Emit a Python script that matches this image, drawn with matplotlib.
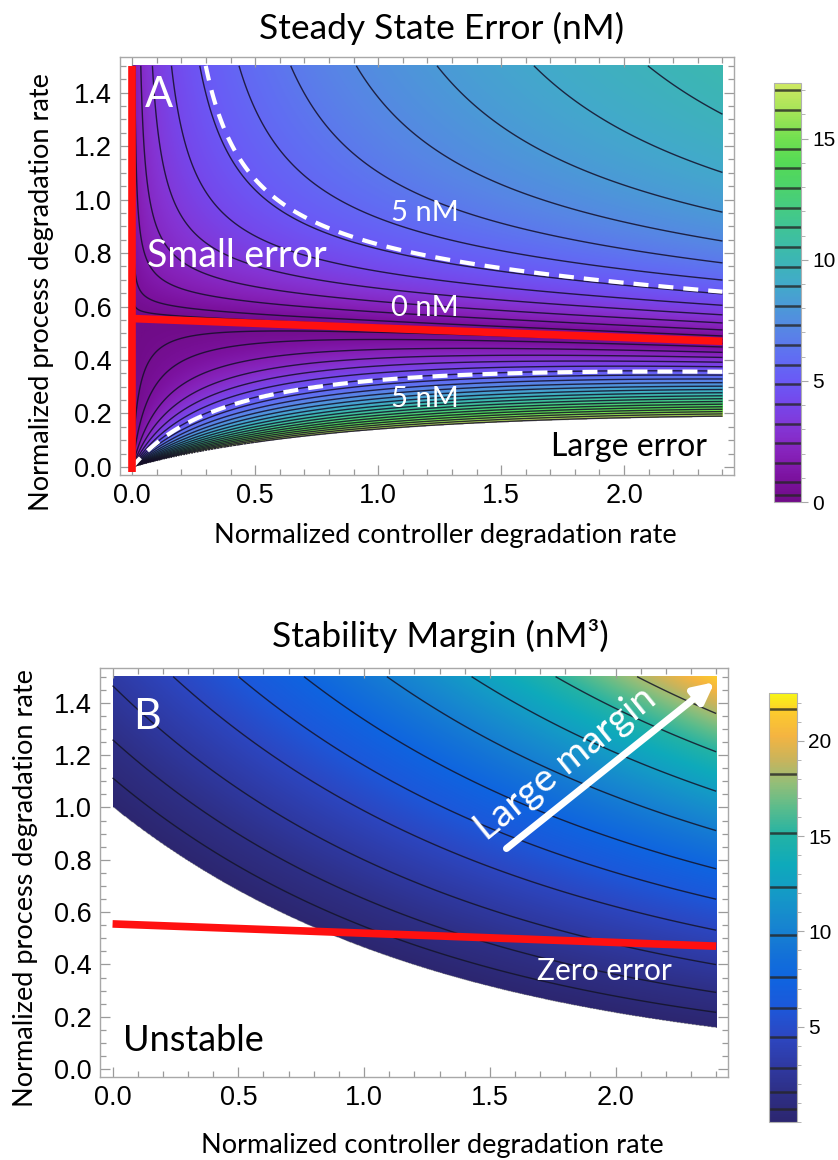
import numpy as np
import matplotlib
matplotlib.use("Agg")
import matplotlib.pyplot as plt
from matplotlib.colors import LinearSegmentedColormap, Normalize
from matplotlib.ticker import MultipleLocator, FixedLocator, FormatStrFormatter

# ---------------- data ----------------
# zero-error line (normalized controller vs process degradation)
zero_err_x = [0.0, 2.4]
zero_err_y = [0.555, 0.47]

# Panel A: steady state error contour levels (nM) and colour range
err_levels = [0.29, 0.81, 1.62, 2.43, 3.24, 4.05, 4.86, 5.67, 6.48, 7.29, 8.10,
              8.91, 9.72, 10.53, 11.34, 12.15, 12.96, 13.77, 14.58, 15.39,
              16.20, 17.01]
err_max = 17.3
err_highlight = [5.0]
# error-surface parameters estimated from the contour positions
err_gain_above = 13.2
err_halfsat_above = 0.304
err_xexp_above = 1.0 / 3.0
err_gain_below = 10.9
err_offset_below = 0.1

# Panel B: stability margin contour levels (nM^3) and colour range
margin_levels = [0.69, 1.58, 2.84, 4.46, 6.0, 7.61, 9.81, 12.33, 15.16,
                 18.25, 21.66]
margin_max = 22.5
# stability boundary y = exp(-k x) and margin growth estimated from contours
margin_boundary_k = 0.77
margin_c0 = 6.1
margin_c1 = 2.29
margin_c2 = 0.432

x_range = [0.0, 2.4]
y_range = [0.0, 1.5]

cmapA_vals = [0.0, 1.0, 2.0, 3.0, 4.0, 5.0, 6.0, 7.0, 8.0, 9.0, 10.0, 11.0,
              12.0, 13.0, 14.0, 15.0, 16.0, 17.3]
cmapA_cols = ['#700c88', '#7c12a0', '#8622ba', '#8434d4', '#7646ea', '#6a5af6',
              '#606ef2', '#5884e6', '#4c98d8', '#42aaca', '#3cb6b4', '#3ec09e',
              '#44ca86', '#4cd26c', '#54da56', '#70e050', '#9ee456', '#cfe962']
cmapB_vals = [0.0, 1.5, 3.0, 4.5, 6.0, 7.5, 9.0, 10.5, 12.0, 13.5, 15.0, 16.5,
              17.8, 19.0, 20.3, 21.5, 22.5]
cmapB_cols = ['#2c2670', '#2e2f85', '#2f3aa4', '#2c47c2', '#1c58da', '#0f64e0',
              '#1474d6', '#1787cf', '#149ac6', '#0eaabb', '#22b2a6', '#5abc8c',
              '#94be78', '#c8b45c', '#f4b441', '#fcca2e', '#f8f614']

# ---------------- figure setup ----------------
W, H, DPI = 838, 1160, 100
plt.rcParams['font.family'] = ['Liberation Sans', 'DejaVu Sans']
TXT = ['Lato', 'DejaVu Sans']
fig = plt.figure(figsize=(W / DPI, H / DPI), dpi=DPI)


def px_axes(l, t, r, b):
    return fig.add_axes([l / W, 1 - b / H, (r - l) / W, (b - t) / H])


def make_cmap(vals, cols, vmax):
    return LinearSegmentedColormap.from_list(
        'c', [(v / vmax, c) for v, c in zip(vals, cols)])


axA = px_axes(120, 57, 734, 475)
caxA = px_axes(774, 83, 801, 502)
axB = px_axes(100, 668, 728, 1077)
caxB = px_axes(769, 693, 797, 1122)

xs = np.linspace(x_range[0], x_range[1], 961)
ys = np.linspace(y_range[0], y_range[1], 751)
X, Y = np.meshgrid(xs, ys)

# ---------------- Panel A field ----------------
Y0 = np.interp(X, zero_err_x, zero_err_y)
D = Y - Y0
with np.errstate(divide='ignore', invalid='ignore'):
    E_above = err_gain_above * (X / x_range[1]) ** err_xexp_above * D / (D + err_halfsat_above)
    E_below = err_gain_below * X * (-D) / (Y + err_offset_below * X)
E = np.where(D >= 0, E_above, E_below)
E = np.ma.masked_invalid(E)
E = np.ma.masked_where(E > err_max, E)

cmapA = make_cmap(cmapA_vals, cmapA_cols, err_max)
normA = Normalize(0, err_max)
imA = axA.imshow(E, extent=[x_range[0], x_range[1], y_range[0], y_range[1]],
                 origin='lower', cmap=cmapA, norm=normA, aspect='auto',
                 interpolation='bilinear')
axA.contour(X, Y, E, levels=err_levels, colors='#140f28', linewidths=1.0, alpha=0.85)
axA.contour(X, Y, E, levels=err_highlight, colors='white', linewidths=3.0,
            linestyles=[(0, (3.6, 2.4))])
axA.plot(zero_err_x, zero_err_y, color='#ff1010', lw=5.5, solid_capstyle='butt')
axA.plot([0, 0], [-0.02, y_range[1]], color='#ff1010', lw=5.5, solid_capstyle='butt')

axA.text(0.05, 1.39, 'A', color='white', fontsize=30, family=TXT, ha='left', va='center')
axA.text(0.06, 0.79, 'Small error', color='white', fontsize=27, family=TXT, ha='left', va='center')
axA.text(1.19, 0.95, '5 nM', color='white', fontsize=21, family=TXT, ha='center', va='center')
axA.text(1.19, 0.595, '0 nM', color='white', fontsize=21, family=TXT, ha='center', va='center')
axA.text(1.19, 0.255, '5 nM', color='white', fontsize=21, family=TXT, ha='center', va='center')
axA.text(2.02, 0.075, 'Large error', color='black', fontsize=23, family=TXT, ha='center', va='center')

# ---------------- Panel B field ----------------
YB = np.exp(-margin_boundary_k * X)
DB = Y - YB
M = DB * (margin_c0 + margin_c1 * X + margin_c2 * X ** 2 * DB ** 2)
M = np.ma.masked_where(DB < 0, M)

cmapB = make_cmap(cmapB_vals, cmapB_cols, margin_max)
normB = Normalize(0, margin_max)
imB = axB.imshow(M, extent=[x_range[0], x_range[1], y_range[0], y_range[1]],
                 origin='lower', cmap=cmapB, norm=normB, aspect='auto',
                 interpolation='bilinear')
axB.contour(X, Y, M, levels=margin_levels, colors='#141428', linewidths=1.0, alpha=0.85)
axB.plot(zero_err_x, zero_err_y, color='#ff1010', lw=5.5, solid_capstyle='butt')

axB.annotate('', xy=(2.394, 1.479), xytext=(1.566, 0.843),
             arrowprops=dict(arrowstyle='-|>', color='white', lw=5,
                             mutation_scale=30, shrinkA=0, shrinkB=0))
axB.text(1.80, 1.17, 'Large margin', color='white', fontsize=28, family=TXT,
         rotation=39, ha='center', va='center', rotation_mode='anchor')
axB.text(0.08, 1.345, 'B', color='white', fontsize=31, family=TXT, ha='left', va='center')
axB.text(1.957, 0.375, 'Zero error', color='white', fontsize=21.5, family=TXT, ha='center', va='center')
axB.text(0.04, 0.11, 'Unstable', color='black', fontsize=26, family=TXT, ha='left', va='center')

# ---------------- axes styling ----------------
for ax in (axA, axB):
    ax.set_xlim(-0.05, 2.447)
    ax.set_ylim(-0.03, 1.533)
    ax.xaxis.set_major_locator(MultipleLocator(0.5))
    ax.xaxis.set_minor_locator(MultipleLocator(0.1))
    ax.yaxis.set_major_locator(MultipleLocator(0.2))
    ax.yaxis.set_minor_locator(MultipleLocator(0.05))
    ax.xaxis.set_major_formatter(FormatStrFormatter('%.1f'))
    ax.yaxis.set_major_formatter(FormatStrFormatter('%.1f'))
    ax.tick_params(which='both', direction='in', top=True, right=True,
                   color='#9a9a9a', labelcolor='black', labelsize=19.5, width=0.9)
    ax.tick_params(which='major', length=7, pad=6)
    ax.tick_params(which='minor', length=4)
    for sp in ax.spines.values():
        sp.set_color('#a8a8a8')
        sp.set_linewidth(1.0)

for cax, im, lv, ticks, vmax in ((caxA, imA, err_levels, [0, 5, 10, 15], err_max),
                                 (caxB, imB, margin_levels, [5, 10, 15, 20], margin_max)):
    cb = fig.colorbar(im, cax=cax)
    cb.outline.set_edgecolor('#b0b0b0')
    cb.outline.set_linewidth(0.8)
    cax.yaxis.set_major_locator(FixedLocator(ticks))
    cax.yaxis.set_minor_locator(MultipleLocator(1))
    cax.tick_params(which='both', direction='out', color='#a8a8a8',
                    labelcolor='black', labelsize=15)
    cax.tick_params(which='major', length=5, pad=3)
    cax.tick_params(which='minor', length=3)
    for v in lv:
        cax.axhline(v, color='#262626', lw=1.8, alpha=0.8)
    cax.set_ylim(0, vmax)

# ---------------- titles and axis labels ----------------
fig.text(442 / W, 1 - 28 / H, 'Steady State Error (nM)', fontsize=25.5, family=TXT,
         ha='center', va='center')
fig.text(440 / W, 1 - 636 / H, 'Stability Margin (nM\u00b3)', fontsize=25.5, family=TXT,
         ha='center', va='center')
fig.text(445 / W, 1 - 536 / H, 'Normalized controller degradation rate', fontsize=19.5,
         family=TXT, ha='center', va='center')
fig.text(42 / W, 1 - 292 / H, 'Normalized process degradation rate', fontsize=19.5,
         family=TXT, ha='center', va='center', rotation=90)
fig.text(432 / W, 1 - 1146 / H, 'Normalized controller degradation rate', fontsize=19.5,
         family=TXT, ha='center', va='center')
fig.text(26 / W, 1 - 888 / H, 'Normalized process degradation rate', fontsize=19.5,
         family=TXT, ha='center', va='center', rotation=90)

fig.savefig('out.png', dpi=DPI)
